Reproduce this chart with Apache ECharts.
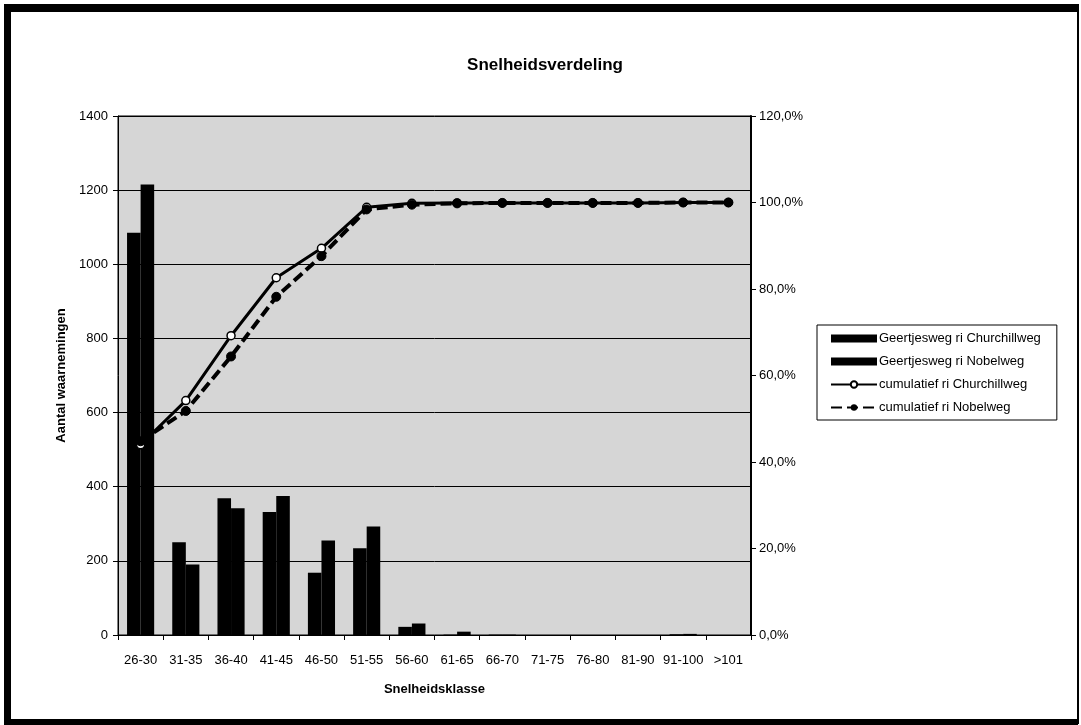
<!DOCTYPE html>
<html>
<head>
<meta charset="utf-8">
<title>Snelheidsverdeling</title>
<script src="https://cdn.jsdelivr.net/npm/echarts@6/dist/echarts.min.js"></script>
<style>
  html, body { margin: 0; padding: 0; background: #ffffff; }
  #chart { width: 1081px; height: 725px; }
</style>
</head>
<body>
<div id="chart"></div>
<script>
// Speed classes (km/h)
const categories = ['26-30', '31-35', '36-40', '41-45', '46-50', '51-55', '56-60',
  '61-65', '66-70', '71-75', '76-80', '81-90', '91-100', '>101'];

// Number of observations per speed class
const churchillCounts = [1085, 250, 369, 332, 168, 234, 22, 1, 1, 0, 0, 0, 2, 0];
const nobelCounts = [1215, 190, 342, 375, 255, 293, 31, 9, 1, 0, 0, 0, 3, 0];

// Cumulative share (%)
const churchillCumulative = [44.0, 54.2, 69.2, 82.6, 89.4, 98.9, 99.8, 99.9, 99.9, 99.9, 99.9, 99.9, 100, 100];
const nobelCumulative = [44.8, 51.8, 64.4, 78.2, 87.6, 98.4, 99.5, 99.8, 99.9, 99.9, 99.9, 99.9, 100, 100];

// Axis ticks
const countTicks = [0, 200, 400, 600, 800, 1000, 1200, 1400];
const percentTicks = [0, 20, 40, 60, 80, 100, 120];

const seriesNames = [
  'Geertjesweg ri Churchillweg',
  'Geertjesweg ri Nobelweg',
  'cumulatief ri Churchillweg',
  'cumulatief ri Nobelweg'
];

const FONT = '"Liberation Sans", Arial, sans-serif';
const chart = echarts.init(document.getElementById('chart'), null, { renderer: 'canvas' });

const option = {
  backgroundColor: '#ffffff',
  animation: false,
  textStyle: { fontFamily: FONT, color: '#000' },
  title: {
    text: 'Snelheidsverdeling',
    left: 540,
    textAlign: 'center',
    top: 52,
    textStyle: { fontFamily: FONT, fontSize: 17, fontWeight: 'bold', color: '#000' }
  },
  grid: {
    left: 118, right: 330, top: 116, bottom: 90,
    show: true,
    backgroundColor: '#d6d6d6',
    borderColor: '#000',
    borderWidth: 1
  },
  legend: {
    orient: 'vertical',
    left: 817,
    top: 325,
    padding: [7, 16, 6, 13],
    itemGap: 10,
    itemWidth: 46,
    itemHeight: 8,
    backgroundColor: '#ffffff',
    borderColor: '#000',
    borderWidth: 1,
    borderRadius: 0,
    textStyle: { fontFamily: FONT, fontSize: 13, color: '#000', padding: [0, 0, 0, -3] },
    data: [
      { name: seriesNames[0], icon: 'rect' },
      { name: seriesNames[1], icon: 'rect' },
      { name: seriesNames[2] },
      { name: seriesNames[3] }
    ]
  },
  xAxis: {
    type: 'category',
    data: categories,
    name: 'Snelheidsklasse',
    nameLocation: 'middle',
    nameGap: 48,
    nameTextStyle: { fontFamily: FONT, fontSize: 13, fontWeight: 'bold', color: '#000' },
    axisLine: { lineStyle: { color: '#000', width: 1 } },
    axisTick: { show: true, alignWithLabel: false, length: 5, lineStyle: { color: '#000' } },
    axisLabel: { fontFamily: FONT, fontSize: 13, color: '#000', margin: 19, interval: 0 }
  },
  yAxis: [
    {
      type: 'value',
      min: countTicks[0],
      max: countTicks[countTicks.length - 1],
      interval: countTicks[1] - countTicks[0],
      name: 'Aantal waarnemingen',
      nameLocation: 'middle',
      nameGap: 48,
      nameTextStyle: { fontFamily: FONT, fontSize: 13, fontWeight: 'bold', color: '#000' },
      axisLine: { show: true, lineStyle: { color: '#000', width: 1 } },
      axisTick: { show: true, length: 5, lineStyle: { color: '#000' } },
      axisLabel: { fontFamily: FONT, fontSize: 13, color: '#000', margin: 10, formatter: v => String(v) },
      splitLine: { show: true, lineStyle: { color: '#000', width: 1 } }
    },
    {
      type: 'value',
      position: 'right',
      min: percentTicks[0],
      max: percentTicks[percentTicks.length - 1],
      interval: percentTicks[1] - percentTicks[0],
      axisLine: { show: true, lineStyle: { color: '#000', width: 2 } },
      axisTick: { show: true, length: 5, lineStyle: { color: '#000' } },
      axisLabel: {
        fontFamily: FONT, fontSize: 13, color: '#000', margin: 8,
        formatter: v => v.toFixed(1).replace('.', ',') + '%'
      },
      splitLine: { show: false }
    }
  ],
  series: [
    {
      name: seriesNames[0],
      type: 'bar',
      data: churchillCounts,
      barGap: '0%',
      barCategoryGap: '40%',
      itemStyle: { color: '#000' }
    },
    {
      name: seriesNames[1],
      type: 'bar',
      data: nobelCounts,
      itemStyle: { color: '#000' }
    },
    {
      name: seriesNames[2],
      type: 'line',
      yAxisIndex: 1,
      data: churchillCumulative,
      symbol: 'circle',
      symbolSize: 8,
      lineStyle: { color: '#000', width: 3 },
      itemStyle: { color: '#ffffff', borderColor: '#000', borderWidth: 1.5 },
      z: 3
    },
    {
      name: seriesNames[3],
      type: 'line',
      yAxisIndex: 1,
      data: nobelCumulative,
      symbol: 'circle',
      symbolSize: 9,
      lineStyle: { color: '#000', width: 4, type: [11, 5] },
      itemStyle: { color: '#000', borderColor: '#000' },
      z: 4
    }
  ],
  graphic: [
    // heavy frame around the chart area
    { type: 'rect', left: 4, top: 4, shape: { width: 7, height: 720 }, style: { fill: '#000' }, silent: true },
    { type: 'rect', left: 4, top: 4, shape: { width: 1074, height: 8 }, style: { fill: '#000' }, silent: true },
    { type: 'rect', left: 4, top: 719, shape: { width: 1074, height: 6 }, style: { fill: '#000' }, silent: true },
    { type: 'rect', left: 1077, top: 4, shape: { width: 2, height: 720 }, style: { fill: '#000' }, silent: true }
  ]
};

chart.setOption(option);
</script>
</body>
</html>
